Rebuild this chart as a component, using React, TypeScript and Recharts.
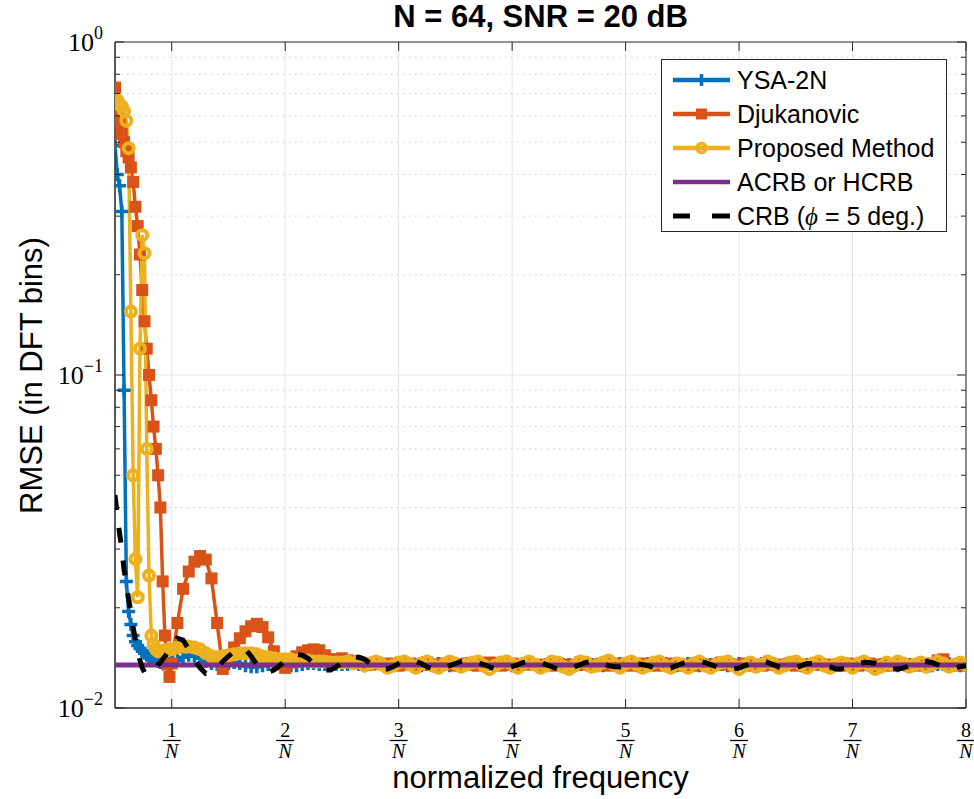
import React from 'react';
import {
  LineChart,
  Line,
  XAxis,
  YAxis,
  CartesianGrid,
  ReferenceLine,
  ReferenceArea,
  Legend,
} from 'recharts';

// normalized frequency, in units of 1/N
const freq = [
  0.5, 0.52, 0.54, 0.56, 0.58, 0.6, 0.62, 0.64, 0.66, 0.68, 0.7, 0.72, 0.74, 0.76, 0.78, 0.8, 0.82, 0.84, 0.86, 0.88,
  0.9, 0.92, 0.94, 0.96, 0.98,
  1, 1.05, 1.1, 1.15, 1.2, 1.25, 1.3, 1.35, 1.4, 1.45, 1.5, 1.55, 1.6, 1.65, 1.7, 1.75, 1.8, 1.85, 1.9, 1.95,
  2, 2.05, 2.1, 2.15, 2.2, 2.25, 2.3, 2.35, 2.4, 2.45, 2.5,
  2.55, 2.6, 2.65, 2.7, 2.75, 2.8, 2.85, 2.9, 2.95, 3,
  3.05, 3.1, 3.15, 3.2, 3.25, 3.3, 3.35, 3.4, 3.45, 3.5,
  3.55, 3.6, 3.65, 3.7, 3.75, 3.8, 3.85, 3.9, 3.95, 4,
  4.05, 4.1, 4.15, 4.2, 4.25, 4.3, 4.35, 4.4, 4.45, 4.5,
  4.55, 4.6, 4.65, 4.7, 4.75, 4.8, 4.85, 4.9, 4.95, 5,
  5.05, 5.1, 5.15, 5.2, 5.25, 5.3, 5.35, 5.4, 5.45, 5.5,
  5.55, 5.6, 5.65, 5.7, 5.75, 5.8, 5.85, 5.9, 5.95, 6,
  6.05, 6.1, 6.15, 6.2, 6.25, 6.3, 6.35, 6.4, 6.45, 6.5,
  6.55, 6.6, 6.65, 6.7, 6.75, 6.8, 6.85, 6.9, 6.95, 7,
  7.05, 7.1, 7.15, 7.2, 7.25, 7.3, 7.35, 7.4, 7.45, 7.5,
  7.55, 7.6, 7.65, 7.7, 7.75, 7.8, 7.85, 7.9, 7.95, 8,
];

const ysa2n = [
  0.49, 0.4, 0.37, 0.31, 0.09, 0.024, 0.0195, 0.0178, 0.0165, 0.0158, 0.0154, 0.0151, 0.0148, 0.0146, 0.0144, 0.0142,
  0.0141, 0.014, 0.0139, 0.0138, 0.0137, 0.0137, 0.0136, 0.0136, 0.0136,
  0.0137, 0.0139, 0.0142, 0.0144, 0.0143, 0.0141, 0.0138, 0.0136, 0.0135, 0.0135, 0.0136, 0.0137, 0.0136, 0.0134,
  0.0133, 0.0133, 0.0134, 0.0135, 0.0136, 0.0136, 0.0135, 0.0134, 0.0134, 0.0135, 0.0136, 0.0136, 0.0135, 0.0135,
  0.0136, 0.0135, 0.0135,
  0.0135, 0.0136, 0.0135, 0.0134, 0.0135, 0.0136, 0.0135, 0.0135, 0.0134, 0.0135,
  0.0136, 0.0135, 0.0135, 0.0134, 0.0135, 0.0135, 0.0136, 0.0135, 0.0134, 0.0135,
  0.0135, 0.0136, 0.0135, 0.0135, 0.0134, 0.0135, 0.0136, 0.0135, 0.0135, 0.0134,
  0.0135, 0.0135, 0.0136, 0.0135, 0.0134, 0.0135, 0.0135, 0.0136, 0.0135, 0.0135,
  0.0134, 0.0135, 0.0136, 0.0135, 0.0135, 0.0134, 0.0135, 0.0135, 0.0136, 0.0135,
  0.0135, 0.0134, 0.0135, 0.0136, 0.0135, 0.0135, 0.0136, 0.0135, 0.0134, 0.0135,
  0.0136, 0.0135, 0.0134, 0.0135, 0.0135, 0.0136, 0.0135, 0.0134, 0.0135, 0.0136,
  0.0135, 0.0135, 0.0134, 0.0136, 0.0135, 0.0135, 0.0134, 0.0135, 0.0136, 0.0135,
  0.0134, 0.0135, 0.0136, 0.0135, 0.0135, 0.0134, 0.0135, 0.0136, 0.0135, 0.0135,
  0.0136, 0.0135, 0.0135, 0.0134, 0.0135, 0.0136, 0.0135, 0.0134, 0.0135, 0.0135,
  0.0135, 0.0136, 0.0135, 0.0134, 0.0135, 0.0135, 0.0136, 0.0135, 0.0134, 0.0135,
];

const djukanovic = [
  0.73, 0.62, 0.57, 0.53, 0.5, 0.47, 0.45, 0.42, 0.38, 0.32, 0.28, 0.23, 0.18, 0.145, 0.12, 0.1, 0.084, 0.07, 0.06,
  0.05, 0.04, 0.024, 0.0165, 0.0135, 0.0124,
  0.0136, 0.018, 0.0228, 0.0257, 0.0275, 0.0286, 0.0279, 0.0245, 0.018, 0.0131, 0.0141, 0.0152, 0.0162, 0.017,
  0.0176, 0.0179, 0.0175, 0.0163, 0.0148, 0.0135, 0.0132, 0.0137, 0.0143, 0.0147, 0.0149, 0.015, 0.0149, 0.0144,
  0.014, 0.014, 0.0141,
  0.0139, 0.0138, 0.0137, 0.0136, 0.0135, 0.0137, 0.0136, 0.0135, 0.0136, 0.0134,
  0.0135, 0.0136, 0.0134, 0.0135, 0.0137, 0.0135, 0.0134, 0.0136, 0.0135, 0.0134,
  0.0135, 0.0136, 0.0135, 0.0134, 0.0135, 0.0137, 0.0135, 0.0134, 0.0135, 0.0136,
  0.0134, 0.0135, 0.0136, 0.0135, 0.0134, 0.0135, 0.0134, 0.0136, 0.0135, 0.0134,
  0.0135, 0.0137, 0.0135, 0.0134, 0.0135, 0.0136, 0.0134, 0.0135, 0.0136, 0.0135,
  0.0134, 0.0135, 0.0136, 0.0134, 0.0135, 0.0134, 0.0135, 0.0136, 0.0135, 0.0134,
  0.0135, 0.0134, 0.0136, 0.0135, 0.0134, 0.0135, 0.0137, 0.0135, 0.0134, 0.0135,
  0.0136, 0.0134, 0.0135, 0.0134, 0.0136, 0.0135, 0.0134, 0.0135, 0.0136, 0.0134,
  0.0135, 0.0134, 0.0135, 0.0136, 0.0135, 0.0134, 0.0135, 0.0134, 0.0136, 0.0135,
  0.0134, 0.0135, 0.0136, 0.0134, 0.0135, 0.0134, 0.0135, 0.0136, 0.0135, 0.0134,
  0.0135, 0.0134, 0.0135, 0.0136, 0.0139, 0.014, 0.0135, 0.0134, 0.0135, 0.0134,
];

const proposed = [
  0.66, 0.67, 0.65, 0.64, 0.62, 0.58, 0.48, 0.155, 0.05, 0.028, 0.0215, 0.12, 0.263, 0.232, 0.06, 0.025, 0.0165,
  0.0155, 0.015, 0.0148, 0.0148, 0.0148, 0.0149, 0.0149, 0.015,
  0.015, 0.0152, 0.0153, 0.0153, 0.0152, 0.015, 0.0146, 0.0143, 0.0142, 0.0143, 0.0144, 0.0145, 0.0146, 0.0146,
  0.0146, 0.0145, 0.0143, 0.0142, 0.0141, 0.014, 0.014, 0.014, 0.0139, 0.0139, 0.0139, 0.0138, 0.0138, 0.0138,
  0.0137, 0.0137, 0.0137,
  0.0138, 0.0136, 0.0138, 0.0134, 0.0136, 0.0138, 0.0135, 0.0132, 0.0134, 0.0137,
  0.0138, 0.0135, 0.0132, 0.0136, 0.0138, 0.0134, 0.0132, 0.0135, 0.0138, 0.0136,
  0.0133, 0.0135, 0.0137, 0.0138, 0.0134, 0.0131, 0.0134, 0.0137, 0.0138, 0.0135,
  0.0132, 0.0136, 0.0138, 0.0135, 0.0132, 0.0134, 0.0138, 0.0137, 0.0133, 0.0131,
  0.0134, 0.0138, 0.0137, 0.0133, 0.0134, 0.0137, 0.0139, 0.0135, 0.0132, 0.0136,
  0.0138, 0.0135, 0.0132, 0.0134, 0.0137, 0.0138, 0.0134, 0.0132, 0.0136, 0.0135,
  0.0132, 0.0136, 0.0138, 0.0134, 0.0132, 0.0135, 0.0137, 0.0138, 0.0134, 0.0131,
  0.0134, 0.0137, 0.0133, 0.0135, 0.0138, 0.0136, 0.0132, 0.0134, 0.0137, 0.0138,
  0.0135, 0.0132, 0.0136, 0.0138, 0.0134, 0.0132, 0.0135, 0.0137, 0.0135, 0.0132,
  0.0136, 0.0138, 0.0134, 0.0131, 0.0133, 0.0137, 0.0135, 0.0138, 0.0136, 0.0133,
  0.0135, 0.0137, 0.0133, 0.0135, 0.0138, 0.0136, 0.0133, 0.0135, 0.0137, 0.0135,
];

const crb = [
  0.0436, 0.038, 0.0335, 0.03, 0.026, 0.0235, 0.0212, 0.0195, 0.0175, 0.016, 0.0148, 0.0139, 0.0132, 0.0128, 0.0126,
  0.0126, 0.0127, 0.0129, 0.0132, 0.0135, 0.0137, 0.014, 0.0143, 0.0146, 0.0149,
  0.0152, 0.0162, 0.016, 0.015, 0.014, 0.0132, 0.0127, 0.0128, 0.0132, 0.0138, 0.0143, 0.0148, 0.0151, 0.015,
  0.0143, 0.0135, 0.013, 0.0128, 0.013, 0.0134, 0.0139, 0.0142, 0.0145, 0.0144, 0.0141, 0.0136, 0.0132, 0.013,
  0.013, 0.0133, 0.0137,
  0.014, 0.0142, 0.0142, 0.014, 0.0136, 0.0133, 0.0131, 0.0131, 0.0133, 0.0136,
  0.0138, 0.0139, 0.0138, 0.0136, 0.0133, 0.0131, 0.0131, 0.0132, 0.0134, 0.0136,
  0.0138, 0.0139, 0.0139, 0.0137, 0.0135, 0.0133, 0.0131, 0.0131, 0.0131, 0.0133,
  0.0135, 0.0137, 0.0138, 0.0138, 0.0137, 0.0135, 0.0133, 0.0131, 0.0131, 0.0131,
  0.0133, 0.0135, 0.0137, 0.0138, 0.0138, 0.0136, 0.0134, 0.0133, 0.0133, 0.0134,
  0.0135, 0.0136, 0.0135, 0.0134, 0.0132, 0.0131, 0.0131, 0.0132, 0.0134, 0.0136,
  0.0138, 0.0138, 0.0138, 0.0137, 0.0135, 0.0133, 0.0131, 0.0131, 0.0131, 0.0132,
  0.0134, 0.0136, 0.0138, 0.0138, 0.0137, 0.0135, 0.0133, 0.0132, 0.0131, 0.0132,
  0.0134, 0.0136, 0.0136, 0.0135, 0.0134, 0.0133, 0.0131, 0.0131, 0.0132, 0.0134,
  0.0136, 0.0137, 0.0137, 0.0136, 0.0134, 0.0132, 0.0131, 0.0131, 0.0132, 0.0134,
  0.0136, 0.0138, 0.0138, 0.0137, 0.0135, 0.0133, 0.0132, 0.0132, 0.0133, 0.0134,
];

const acrbLevel = 0.01346;

const xTicks = [1, 2, 3, 4, 5, 6, 7, 8];
const yMajor = [0.01, 0.1, 1];
const yMinor = [0.02, 0.03, 0.04, 0.05, 0.06, 0.07, 0.08, 0.09, 0.2, 0.3, 0.4, 0.5, 0.6, 0.7, 0.8, 0.9];

const data = freq.map((f, i) => ({
  f,
  ysa: ysa2n[i],
  dj: djukanovic[i],
  prop: proposed[i],
  acrb: acrbLevel,
  crb: crb[i],
}));

// plot box in page pixels
const PL = 115;
const PR = 966;
const PT = 42;
const PB = 708;

const SANS = '"Liberation Sans", Arial, Helvetica, sans-serif';
const SERIF = '"Liberation Serif", "Times New Roman", serif';
const AXIS = '#262626';

const BLUE = '#0072BD';
const ORANGE = '#D95319';
const YELLOW = '#EDB120';
const PURPLE = '#7E2F8E';

function plusDot(color: string) {
  return (p: any) => {
    const { cx, cy, index } = p;
    if (cx == null || cy == null) return <g key={`p${index}`} />;
    return (
      <path
        key={`p${index}`}
        d={`M${cx - 6.5},${cy}H${cx + 6.5}M${cx},${cy - 6.5}V${cy + 6.5}`}
        stroke={color}
        strokeWidth={3.5}
        fill="none"
      />
    );
  };
}

function squareDot(color: string) {
  return (p: any) => {
    const { cx, cy, index } = p;
    if (cx == null || cy == null) return <g key={`s${index}`} />;
    return <rect key={`s${index}`} x={cx - 6} y={cy - 6} width={12} height={12} fill={color} />;
  };
}

function circleDot(color: string) {
  return (p: any) => {
    const { cx, cy, index } = p;
    if (cx == null || cy == null) return <g key={`c${index}`} />;
    return <circle key={`c${index}`} cx={cx} cy={cy} r={5} stroke={color} strokeWidth={4} fill="none" />;
  };
}

const YTick = (props: any) => {
  const { y, payload } = props;
  const v = payload.value;
  const major = yMajor.some((m) => Math.abs(m - v) < 1e-9);
  const len = major ? 9 : 5;
  const exp = Math.round(Math.log10(v));
  return (
    <g>
      <line x1={PL} x2={PL + len} y1={y} y2={y} stroke={AXIS} />
      <line x1={PR - len} x2={PR} y1={y} y2={y} stroke={AXIS} />
      {major && (
        <text x={PL - 12} y={y + 9} textAnchor="end" fontFamily={SERIF} fontSize={26} fill="#000">
          10
          <tspan dy={-12} fontSize={18}>
            {exp === 0 ? '0' : '\u2212' + Math.abs(exp)}
          </tspan>
        </text>
      )}
    </g>
  );
};

const XTick = (props: any) => {
  const { x, payload } = props;
  return (
    <g>
      <line x1={x} x2={x} y1={PB} y2={PB - 9} stroke={AXIS} />
      <line x1={x} x2={x} y1={PT} y2={PT + 9} stroke={AXIS} />
      <text x={x} y={737} textAnchor="middle" fontFamily={SERIF} fontSize={20} fill="#000">
        {payload.value}
      </text>
      <line x1={x - 9} x2={x + 9} y1={740.5} y2={740.5} stroke="#000" strokeWidth={1.3} />
      <text x={x} y={758} textAnchor="middle" fontFamily={SERIF} fontStyle="italic" fontSize={20} fill="#000">
        N
      </text>
    </g>
  );
};

const legendRows = [
  { name: 'YSA-2N', color: BLUE, marker: 'plus' },
  { name: 'Djukanovic', color: ORANGE, marker: 'square' },
  { name: 'Proposed Method', color: YELLOW, marker: 'circle' },
  { name: 'ACRB or HCRB', color: PURPLE, marker: 'none' },
  { name: 'CRB', color: '#000', marker: 'dash' },
];

const LegendIcon = ({ color, marker }: { color: string; marker: string }) => {
  const cy = 17;
  const cx = 39.5;
  if (marker === 'dash') {
    return (
      <svg width={75} height={34}>
        <line x1={11} x2={28} y1={cy} y2={cy} stroke="#000" strokeWidth={5} />
        <line x1={50} x2={68} y1={cy} y2={cy} stroke="#000" strokeWidth={5} />
      </svg>
    );
  }
  return (
    <svg width={75} height={34}>
      <line x1={11} x2={68} y1={cy} y2={cy} stroke={color} strokeWidth={4.5} />
      {marker === 'plus' && (
        <path d={`M${cx - 6},${cy}H${cx + 6}M${cx},${cy - 6}V${cy + 6}`} stroke={color} strokeWidth={3.5} />
      )}
      {marker === 'square' && <rect x={cx - 5.5} y={cy - 5.5} width={11} height={11} fill={color} />}
      {marker === 'circle' && <circle cx={cx} cy={cy} r={4.5} stroke={color} strokeWidth={3.5} fill="none" />}
    </svg>
  );
};

const LegendBox = () => (
  <div
    style={{
      border: `1px solid ${AXIS}`,
      background: '#fff',
      width: 286,
      height: 173,
      boxSizing: 'border-box',
      paddingTop: 3,
      fontFamily: SANS,
      fontSize: 25,
      color: '#000',
    }}
  >
    {legendRows.map((r) => (
      <div key={r.name} style={{ display: 'flex', alignItems: 'center', height: 34 }}>
        <LegendIcon color={r.color} marker={r.marker} />
        <span style={{ whiteSpace: 'nowrap', lineHeight: '34px' }}>
          {r.name === 'CRB' ? (
            <>
              CRB (<span style={{ fontFamily: SERIF, fontStyle: 'italic' }}>{'\u03D5'}</span> = 5 deg.)
            </>
          ) : (
            r.name
          )}
        </span>
      </div>
    ))}
  </div>
);

export default function App() {
  return (
    <div style={{ position: 'absolute', left: 0, top: 0, width: 974, height: 799, background: '#fff' }}>
      <LineChart width={974} height={799} data={data} margin={{ top: PT, right: 974 - PR, bottom: 31, left: 45 }}>
        <CartesianGrid horizontal={false} stroke="#e6e6e6" />
        <ReferenceLine y={0.1} stroke="#e6e6e6" />
        {yMinor.map((v) => (
          <ReferenceLine key={v} y={v} stroke="#cfcfcf" strokeDasharray="1.5 4.5" />
        ))}
        <XAxis
          dataKey="f"
          type="number"
          domain={[0.5, 8]}
          ticks={xTicks}
          interval={0}
          allowDataOverflow
          height={60}
          tick={<XTick />}
          tickLine={false}
          axisLine={{ stroke: AXIS }}
        />
        <YAxis
          type="number"
          scale="log"
          domain={[0.01, 1]}
          ticks={[...yMajor, ...yMinor].sort((a, b) => a - b)}
          interval={0}
          allowDataOverflow
          width={70}
          tick={<YTick />}
          tickLine={false}
          axisLine={{ stroke: AXIS }}
        />
        <ReferenceArea x1={0.5} x2={8} y1={0.01} y2={1} fill="none" stroke={AXIS} strokeOpacity={1} fillOpacity={0} />
        <Line
          type="linear"
          dataKey="ysa"
          stroke={BLUE}
          strokeWidth={3.5}
          dot={plusDot(BLUE)}
          isAnimationActive={false}
        />
        <Line
          type="linear"
          dataKey="dj"
          stroke={ORANGE}
          strokeWidth={3.5}
          dot={squareDot(ORANGE)}
          isAnimationActive={false}
        />
        <Line
          type="linear"
          dataKey="prop"
          stroke={YELLOW}
          strokeWidth={3.5}
          dot={circleDot(YELLOW)}
          isAnimationActive={false}
        />
        <Line
          type="linear"
          dataKey="acrb"
          stroke={PURPLE}
          strokeWidth={5}
          dot={false}
          isAnimationActive={false}
          zIndex={1500}
        />
        <Line
          type="linear"
          dataKey="crb"
          stroke="#000"
          strokeWidth={5}
          strokeDasharray="15 18"
          dot={false}
          isAnimationActive={false}
          zIndex={1600}
        />
        <Legend
          layout="vertical"
          align="center"
          verticalAlign="middle"
          wrapperStyle={{ left: 661, top: 59, width: 286, height: 173 }}
          content={() => <LegendBox />}
        />
      </LineChart>

      <div
        style={{
          position: 'absolute',
          left: PL,
          width: PR - PL,
          top: 0,
          textAlign: 'center',
          fontFamily: SANS,
          fontWeight: 'bold',
          fontSize: 31,
          lineHeight: '33px',
          color: '#000',
        }}
      >
        N = 64, SNR = 20 dB
      </div>
      <div
        style={{
          position: 'absolute',
          left: PL,
          width: PR - PL,
          top: 765,
          textAlign: 'center',
          fontFamily: SANS,
          fontSize: 31,
          lineHeight: '26px',
          color: '#000',
        }}
      >
        normalized frequency
      </div>
      <div
        style={{
          position: 'absolute',
          left: 31 - 200,
          top: 375 - 15.5,
          width: 400,
          height: 31,
          textAlign: 'center',
          fontFamily: SANS,
          fontSize: 31,
          lineHeight: '31px',
          color: '#000',
          transform: 'rotate(-90deg)',
          whiteSpace: 'nowrap',
        }}
      >
        RMSE (in DFT bins)
      </div>
    </div>
  );
}
